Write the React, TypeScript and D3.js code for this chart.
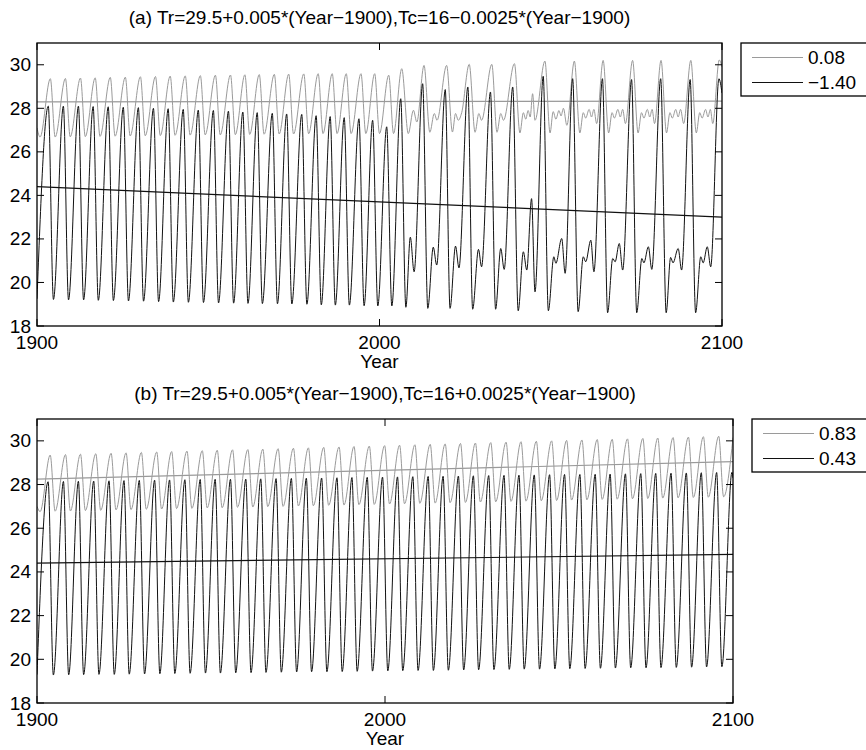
import React from 'react'
import * as d3 from 'd3'

const width = 866
const height = 750

const yearTicks = [1900, 2000, 2100]
const tempTicks = [18, 20, 22, 24, 26, 28, 30]

// ---------- panel (a) ----------
const aTitle = '(a) Tr=29.5+0.005*(Year\u22121900),Tc=16\u22120.0025*(Year\u22121900)'
const aLegend = ['0.08', '\u22121.40']

const aBlackPeakYears = [1903.3, 1907.7, 1912.1, 1916.4, 1920.8, 1925.2, 1929.6, 1934.0, 1938.3, 1942.7, 1947.1, 1951.5, 1955.9, 1960.1, 1964.3, 1968.7, 1972.9, 1977.3, 1981.5, 1985.6, 1989.7, 1994.0, 1998.0, 2002.1]
const aBlackPeakVals = [28.1, 28.1, 28.1, 28.08, 28.07, 28.05, 28.03, 28.0, 27.98, 27.95, 27.92, 27.9, 27.87, 27.83, 27.8, 27.77, 27.74, 27.72, 27.66, 27.62, 27.57, 27.52, 27.45, 27.15]
const aBlackTroughYears = [1900.0, 1904.8, 1909.2, 1913.6, 1917.9, 1922.3, 1926.7, 1931.1, 1935.5, 1939.8, 1944.2, 1948.6, 1953.0, 1957.4, 1961.6, 1965.8, 1970.2, 1974.4, 1978.8, 1983.0, 1987.1, 1991.2, 1995.5, 1999.5, 2003.6]
const aBlackTroughVals = [19.25, 19.22, 19.2, 19.2, 19.18, 19.17, 19.15, 19.14, 19.12, 19.1, 19.09, 19.08, 19.06, 19.05, 19.04, 19.03, 19.02, 19.01, 19.0, 18.97, 18.96, 18.96, 18.93, 18.92, 18.92]
// after 2005 the cold-tongue curve breaks into long cycles with small bumps
const aBlackLate = [
  [2006.2, 28.44], [2007.7, 18.86], [2009.0, 22.08], [2010.1, 20.49],
  [2012.6, 29.13], [2014.1, 18.81], [2015.7, 21.62], [2016.7, 20.8],
  [2019.2, 28.86], [2020.6, 18.81], [2022.2, 21.67], [2023.2, 20.67],
  [2025.8, 28.98], [2027.2, 18.77], [2028.9, 21.52], [2029.8, 20.72],
  [2032.4, 28.75], [2033.9, 18.77], [2035.4, 21.56], [2036.4, 20.6],
  [2038.9, 28.98], [2040.5, 18.7], [2042.0, 21.41], [2043.0, 20.57], [2044.4, 23.85], [2045.4, 19.57],
  [2047.8, 29.47], [2049.3, 18.7], [2050.9, 21.18], [2051.5, 20.88], [2053.2, 22.02], [2054.2, 20.42],
  [2056.4, 29.36], [2058.0, 18.66], [2059.5, 21.18], [2060.2, 20.95], [2061.7, 21.94], [2062.6, 20.49],
  [2065.1, 29.36], [2066.6, 18.61], [2068.1, 21.1], [2068.8, 20.95], [2070.0, 21.79], [2071.0, 20.57],
  [2073.6, 29.32], [2075.1, 18.61], [2076.6, 21.1], [2077.2, 20.9], [2078.5, 21.64], [2079.5, 20.6],
  [2082.1, 29.36], [2083.7, 18.61], [2085.0, 21.15], [2085.7, 20.9], [2087.2, 21.56], [2088.2, 20.57],
  [2090.7, 29.32], [2092.3, 18.61], [2093.8, 21.18], [2094.5, 20.9], [2095.7, 21.64], [2096.7, 20.72],
  [2099.1, 29.36], [2100.0, 28.7],
]

const aGrayPeakYears = [1903.9, 1908.3, 1912.7, 1917.0, 1921.4, 1925.8, 1930.2, 1934.6, 1938.9, 1943.3, 1947.7, 1952.1, 1956.5, 1960.7, 1964.9, 1969.3, 1973.5, 1977.9, 1982.1, 1986.2, 1990.3, 1994.6, 1998.6, 2002.7]
const aGrayPeakVals = [29.36, 29.37, 29.39, 29.4, 29.42, 29.43, 29.45, 29.46, 29.48, 29.49, 29.5, 29.52, 29.53, 29.54, 29.55, 29.56, 29.57, 29.58, 29.59, 29.59, 29.59, 29.59, 29.59, 29.52]
const aGrayTroughYears = [1900.9, 1905.3, 1909.7, 1914.1, 1918.4, 1922.8, 1927.2, 1931.6, 1936.0, 1940.3, 1944.7, 1949.1, 1953.5, 1957.9, 1962.1, 1966.3, 1970.7, 1974.9, 1979.3, 1983.5, 1987.6, 1991.7, 1996.0, 2000.0, 2004.1]
const aGrayTroughVals = [26.68, 26.68, 26.69, 26.7, 26.71, 26.72, 26.73, 26.74, 26.75, 26.76, 26.77, 26.78, 26.78, 26.79, 26.8, 26.81, 26.82, 26.82, 26.83, 26.84, 26.84, 26.84, 26.84, 26.84, 26.84]
const aGrayLate = [
  [1900.0, 27.1],
  [2006.5, 29.82], [2008.4, 26.84], [2009.9, 27.91], [2010.9, 27.37],
  [2013.0, 29.97], [2014.7, 26.9], [2016.0, 27.76], [2016.8, 27.45],
  [2019.6, 29.97], [2021.3, 26.91], [2022.2, 27.76], [2023.0, 27.45], [2024.0, 27.8],
  [2026.2, 30.02], [2027.9, 26.9], [2029.0, 27.76], [2029.8, 27.45],
  [2032.8, 30.02], [2034.3, 26.9], [2035.4, 27.76], [2036.2, 27.45],
  [2039.4, 30.05], [2041.0, 26.87], [2042.0, 27.8], [2042.7, 27.5], [2043.4, 27.9], [2044.0, 27.6], [2044.7, 28.67], [2045.4, 27.45],
  [2048.3, 30.17], [2049.8, 26.87], [2050.7, 27.85], [2051.5, 27.5], [2052.4, 27.9], [2053.0, 27.65], [2053.7, 28.0], [2054.7, 27.22],
  [2056.9, 30.17], [2058.5, 26.87], [2059.5, 27.8], [2060.2, 27.55], [2061.2, 27.95], [2061.9, 27.6], [2062.6, 27.95], [2063.4, 27.3],
  [2065.3, 30.2], [2066.9, 26.87], [2067.9, 27.8], [2068.6, 27.55], [2069.6, 27.95], [2070.3, 27.6], [2071.0, 27.95], [2071.8, 27.3],
  [2073.9, 30.2], [2075.5, 26.87], [2076.5, 27.8], [2077.2, 27.55], [2078.2, 27.95], [2078.9, 27.6], [2079.6, 27.95], [2080.3, 27.3],
  [2082.2, 30.2], [2083.8, 26.87], [2084.8, 27.8], [2085.5, 27.55], [2086.5, 27.95], [2087.2, 27.6], [2087.9, 27.95], [2088.8, 27.3],
  [2090.9, 30.2], [2092.5, 26.87], [2093.5, 27.8], [2094.2, 27.55], [2095.2, 27.95], [2095.9, 27.6], [2096.6, 27.95], [2097.3, 27.3],
  [2099.2, 30.22], [2100.0, 29.9],
]
const aGrayMean = [[1900, 28.3], [2100, 28.33]]
const aBlackMean = [[1900, 24.4], [2100, 23.0]]

// ---------- panel (b) ----------
const bTitle = '(b) Tr=29.5+0.005*(Year\u22121900),Tc=16+0.0025*(Year\u22121900)'
const bLegend = ['0.83', '0.43']

const bBlackPeakYears = [1903.2, 1907.6, 1911.9, 1916.3, 1920.7, 1925.0, 1929.4, 1933.8, 1938.1, 1942.5, 1946.9, 1951.2, 1955.6, 1960.0, 1964.3, 1968.7, 1973.1, 1977.4, 1981.8, 1986.2, 1990.5, 1994.9, 1999.3, 2003.6, 2008.0, 2012.4, 2016.7, 2021.1, 2025.4, 2029.8, 2034.2, 2038.5, 2042.9, 2047.3, 2051.6, 2056.0, 2060.4, 2064.7, 2069.1, 2073.5, 2077.8, 2082.2, 2086.6, 2090.9, 2095.3, 2099.7]
const bBlackPeakVals = [28.13, 28.14, 28.15, 28.16, 28.17, 28.18, 28.19, 28.2, 28.21, 28.22, 28.23, 28.24, 28.24, 28.25, 28.26, 28.27, 28.28, 28.29, 28.3, 28.31, 28.32, 28.33, 28.34, 28.35, 28.36, 28.37, 28.38, 28.39, 28.4, 28.41, 28.42, 28.43, 28.44, 28.45, 28.46, 28.46, 28.47, 28.48, 28.49, 28.5, 28.51, 28.52, 28.53, 28.54, 28.55, 28.56]
const bBlackTroughYears = [1900.0, 1904.7, 1909.1, 1913.4, 1917.8, 1922.2, 1926.5, 1930.9, 1935.3, 1939.6, 1944.0, 1948.4, 1952.7, 1957.1, 1961.5, 1965.8, 1970.2, 1974.6, 1978.9, 1983.3, 1987.7, 1992.0, 1996.4, 2000.8, 2005.1, 2009.5, 2013.9, 2018.2, 2022.6, 2026.9, 2031.3, 2035.7, 2040.0, 2044.4, 2048.8, 2053.1, 2057.5, 2061.9, 2066.2, 2070.6, 2075.0, 2079.3, 2083.7, 2088.1, 2092.4, 2096.8]
const bBlackTroughVals = [19.3, 19.28, 19.29, 19.3, 19.31, 19.31, 19.32, 19.33, 19.34, 19.35, 19.36, 19.37, 19.37, 19.38, 19.39, 19.4, 19.41, 19.42, 19.43, 19.43, 19.44, 19.45, 19.46, 19.47, 19.48, 19.49, 19.49, 19.5, 19.51, 19.52, 19.53, 19.54, 19.55, 19.55, 19.56, 19.57, 19.58, 19.59, 19.6, 19.61, 19.61, 19.62, 19.63, 19.64, 19.65, 19.66]
const bBlackEnd = [[2100.0, 28.3]]

const bGrayPeakYears = [1903.8, 1908.2, 1912.5, 1916.9, 1921.3, 1925.6, 1930.0, 1934.4, 1938.7, 1943.1, 1947.5, 1951.8, 1956.2, 1960.6, 1964.9, 1969.3, 1973.7, 1978.0, 1982.4, 1986.8, 1991.1, 1995.5, 1999.9, 2004.2, 2008.6, 2013.0, 2017.3, 2021.7, 2026.0, 2030.4, 2034.8, 2039.1, 2043.5, 2047.9, 2052.2, 2056.6, 2061.0, 2065.3, 2069.7, 2074.1, 2078.4, 2082.8, 2087.2, 2091.5, 2095.9]
const bGrayPeakVals = [29.35, 29.37, 29.39, 29.41, 29.43, 29.45, 29.47, 29.49, 29.51, 29.53, 29.55, 29.57, 29.59, 29.6, 29.62, 29.64, 29.66, 29.68, 29.7, 29.72, 29.74, 29.76, 29.78, 29.8, 29.82, 29.84, 29.86, 29.88, 29.9, 29.92, 29.94, 29.96, 29.98, 30.0, 30.02, 30.04, 30.06, 30.07, 30.09, 30.11, 30.13, 30.15, 30.17, 30.19, 30.21]
const bGrayTroughYears = [1900.9, 1905.2, 1909.6, 1913.9, 1918.3, 1922.7, 1927.0, 1931.4, 1935.8, 1940.1, 1944.5, 1948.9, 1953.2, 1957.6, 1962.0, 1966.3, 1970.7, 1975.1, 1979.4, 1983.8, 1988.2, 1992.5, 1996.9, 2001.3, 2005.6, 2010.0, 2014.4, 2018.7, 2023.1, 2027.4, 2031.8, 2036.2, 2040.5, 2044.9, 2049.3, 2053.6, 2058.0, 2062.4, 2066.7, 2071.1, 2075.5, 2079.8, 2084.2, 2088.6, 2092.9, 2097.3]
const bGrayTroughVals = [26.76, 26.78, 26.79, 26.81, 26.82, 26.84, 26.85, 26.87, 26.88, 26.9, 26.91, 26.93, 26.94, 26.96, 26.97, 26.99, 27.0, 27.02, 27.03, 27.05, 27.06, 27.08, 27.09, 27.11, 27.12, 27.14, 27.15, 27.17, 27.18, 27.2, 27.21, 27.23, 27.24, 27.26, 27.27, 27.29, 27.3, 27.32, 27.33, 27.35, 27.36, 27.38, 27.39, 27.41, 27.42, 27.44]
const bGrayEnds = [[1900.0, 27.0], [2100.0, 30.15]]
const bGrayMean = [[1900, 28.25], [2100, 29.05]]
const bBlackMean = [[1900, 24.4], [2100, 24.8]]

const zip = (ys: number[], vs: number[]) => ys.map((y, i) => [y, vs[i]])
const merge = (...parts: number[][][]) =>
  parts.flat().slice().sort((a, b) => a[0] - b[0])

const grayColor = '#9a9a9a'
const blackColor = '#111'
const font = '"Liberation Sans", Arial, Helvetica, sans-serif'
const fs = 19

function Panel({ box, title, legend, gray, black, grayMean, blackMean, id }) {
  const x = d3.scaleLinear().domain([1900, 2100]).range([box.left, box.right])
  const y = d3.scaleLinear().domain([18, 31]).range([box.bottom, box.top])
  const line = d3
    .line()
    .x((d) => x(d[0]))
    .y((d) => y(d[1]))
    .curve(d3.curveMonotoneX)
  const straight = d3
    .line()
    .x((d) => x(d[0]))
    .y((d) => y(d[1]))

  const lg = { x: box.right + 19, y: box.top }
  const cx = (box.left + box.right) / 2

  return (
    <g>
      <defs>
        <clipPath id={id}>
          <rect x={box.left} y={box.top} width={box.right - box.left} height={box.bottom - box.top} />
        </clipPath>
      </defs>
      <text x={cx} y={box.top - 19} textAnchor="middle" fontSize={fs} fontFamily={font}>
        {title}
      </text>
      <g clipPath={`url(#${id})`}>
        <path d={line(gray)} fill="none" stroke={grayColor} strokeWidth={1} />
        <path d={straight(grayMean)} fill="none" stroke={grayColor} strokeWidth={1.2} />
        <path d={line(black)} fill="none" stroke={blackColor} strokeWidth={1} />
        <path d={straight(blackMean)} fill="none" stroke={blackColor} strokeWidth={1.2} />
      </g>
      <rect
        x={box.left}
        y={box.top}
        width={box.right - box.left}
        height={box.bottom - box.top}
        fill="none"
        stroke="#000"
        strokeWidth={1.3}
      />
      {tempTicks.map((t) => (
        <g key={t}>
          <line x1={box.left} x2={box.left + 7} y1={y(t)} y2={y(t)} stroke="#000" />
          <line x1={box.right} x2={box.right - 7} y1={y(t)} y2={y(t)} stroke="#000" />
          <text x={box.left - 6} y={y(t) + 6.5} textAnchor="end" fontSize={fs} fontFamily={font}>
            {t}
          </text>
        </g>
      ))}
      {yearTicks.map((t) => (
        <g key={t}>
          <line x1={x(t)} x2={x(t)} y1={box.bottom} y2={box.bottom - 7} stroke="#000" />
          <line x1={x(t)} x2={x(t)} y1={box.top} y2={box.top + 7} stroke="#000" />
          <text x={x(t)} y={box.bottom + 23} textAnchor="middle" fontSize={fs} fontFamily={font}>
            {t}
          </text>
        </g>
      ))}
      <text x={cx} y={box.bottom + 42} textAnchor="middle" fontSize={fs} fontFamily={font}>
        Year
      </text>
      <rect x={lg.x} y={lg.y} width={160} height={53} fill="#fff" stroke="#000" strokeWidth={1.3} />
      {legend.map((label, i) => (
        <g key={label}>
          <line
            x1={lg.x + 11}
            x2={lg.x + 62}
            y1={lg.y + 14.5 + i * 25}
            y2={lg.y + 14.5 + i * 25}
            stroke={i === 0 ? grayColor : blackColor}
          />
          <text x={lg.x + 67} y={lg.y + 21 + i * 25} fontSize={fs} fontFamily={font}>
            {label}
          </text>
        </g>
      ))}
    </g>
  )
}

export default function App() {
  const aBlack = merge(zip(aBlackPeakYears, aBlackPeakVals), zip(aBlackTroughYears, aBlackTroughVals), aBlackLate)
  const aGray = merge(zip(aGrayPeakYears, aGrayPeakVals), zip(aGrayTroughYears, aGrayTroughVals), aGrayLate)
  const bBlack = merge(zip(bBlackPeakYears, bBlackPeakVals), zip(bBlackTroughYears, bBlackTroughVals), bBlackEnd)
  const bGray = merge(zip(bGrayPeakYears, bGrayPeakVals), zip(bGrayTroughYears, bGrayTroughVals), bGrayEnds)

  return (
    <svg
      width={width}
      height={height}
      style={{ position: 'absolute', left: 0, top: 0, background: '#fff' }}
    >
      <Panel
        id="clipA"
        box={{ left: 37, right: 722, top: 43, bottom: 326 }}
        title={aTitle}
        legend={aLegend}
        gray={aGray}
        black={aBlack}
        grayMean={aGrayMean}
        blackMean={aBlackMean}
      />
      <Panel
        id="clipB"
        box={{ left: 37, right: 733, top: 419, bottom: 703 }}
        title={bTitle}
        legend={bLegend}
        gray={bGray}
        black={bBlack}
        grayMean={bGrayMean}
        blackMean={bBlackMean}
      />
    </svg>
  )
}
